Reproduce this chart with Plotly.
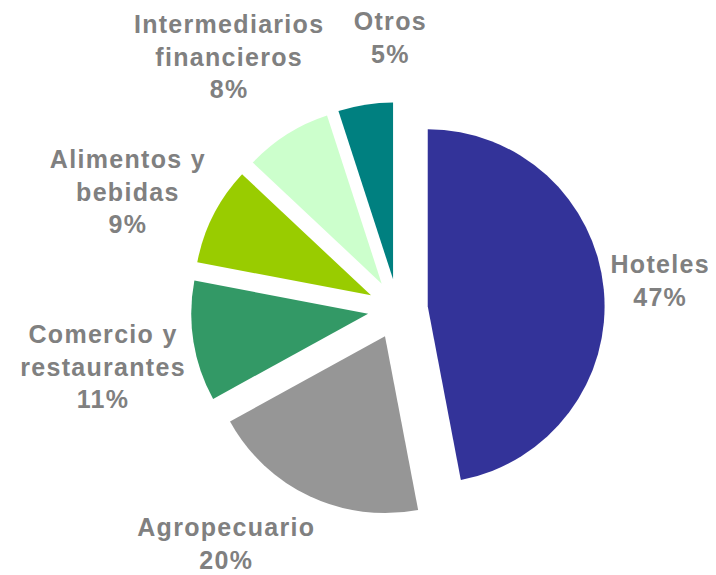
import plotly.graph_objects as go

categories = ["Hoteles", "Agropecuario", "Comercio y<br>restaurantes", "Alimentos y<br>bebidas",
              "Intermediarios<br>financieros", "Otros"]
values = [47, 20, 11, 9, 8, 5]
colors = ["#333399", "#969696", "#339966", "#99CC00", "#CCFFCC", "#008080"]

# label placement (paper coordinates, layout only)
label_x = [0.9105, 0.3045, 0.1327, 0.1676, 0.3087, 0.5349]
label_y = [0.526, 0.068, 0.377, 0.680, 0.916, 0.949]

total = sum(values)

fig = go.Figure(go.Pie(
    labels=categories,
    values=values,
    sort=False,
    direction="clockwise",
    rotation=0,
    pull=[0.17] * len(values),
    marker=dict(colors=colors, line=dict(width=0)),
    textinfo="none",
    showlegend=False,
    hoverinfo="label+percent",
    domain=dict(x=[0.2554, 0.8334], y=[0.1165, 0.8365]),
    automargin=False,
))

for lab, v, x, y in zip(categories, values, label_x, label_y):
    fig.add_annotation(
        x=x, y=y, xref="paper", yref="paper",
        xanchor="center", yanchor="middle", align="center",
        text=f"{lab}<br>{round(v / total * 100)}%",
        showarrow=False,
        font=dict(family="Liberation Sans, Arial", size=25, color="#808080", weight="bold"),
    )

fig.update_layout(
    width=716, height=575,
    margin=dict(l=0, r=0, t=0, b=0),
    paper_bgcolor="white",
    plot_bgcolor="white",
)

fig.write_html(
    "out.html",
    post_script="document.querySelectorAll('.annotation-text').forEach(function(t){t.style.letterSpacing='1.3px';});",
)
